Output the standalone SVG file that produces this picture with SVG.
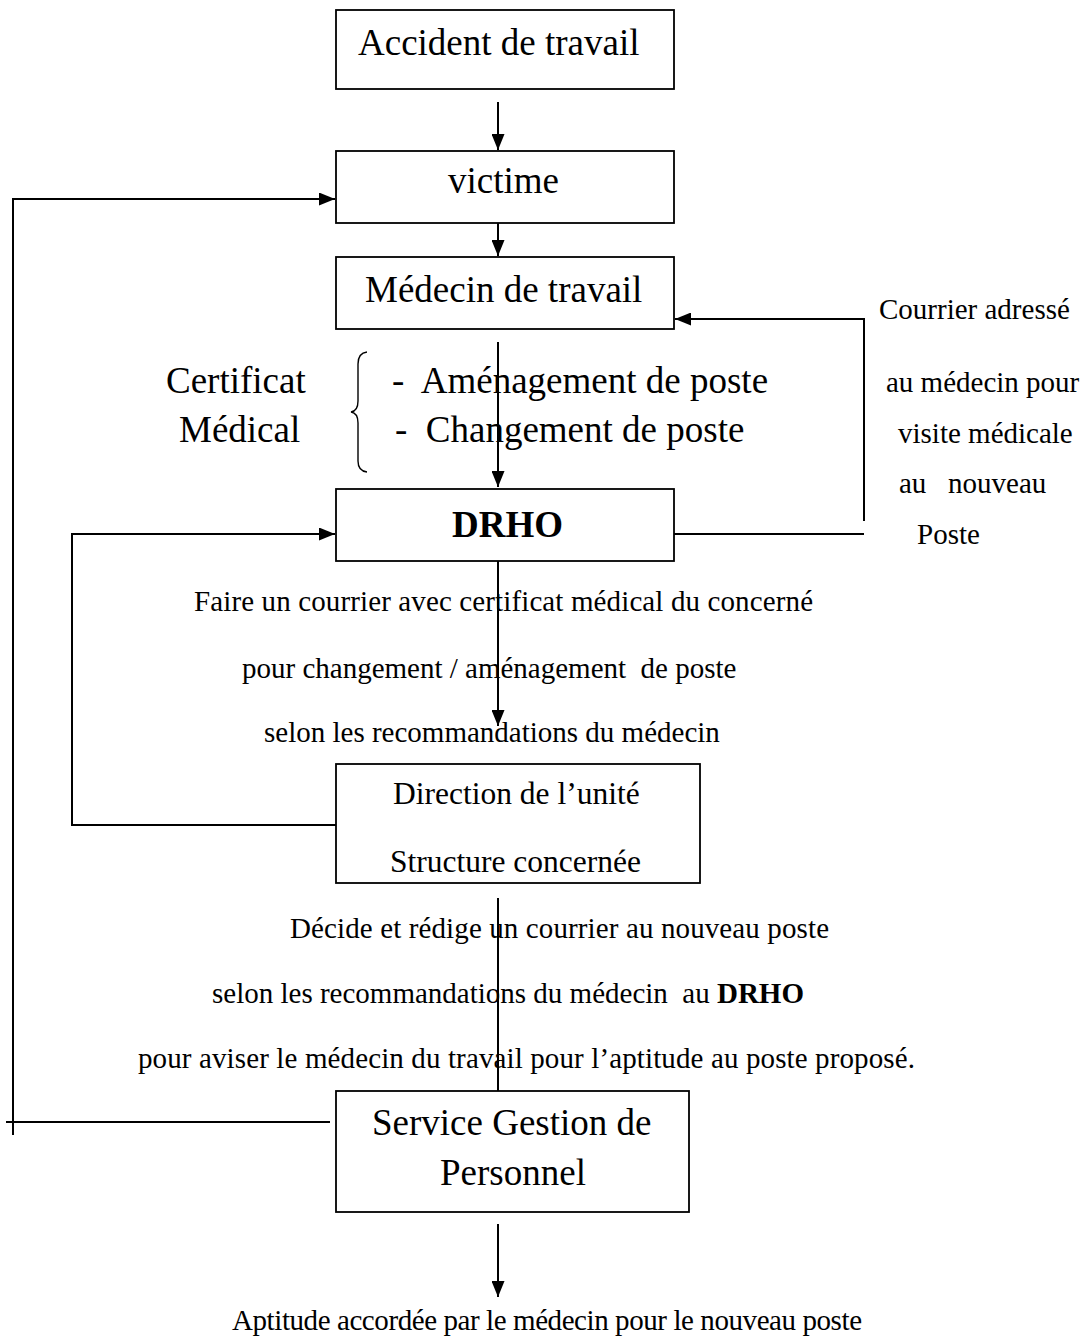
<svg xmlns="http://www.w3.org/2000/svg" width="1087" height="1338" viewBox="0 0 1087 1338">
<style>
.box{fill:#fff;stroke:#000;stroke-width:1.8}
.ln{fill:none;stroke:#000;stroke-width:2}
.big{font-family:"Liberation Serif","Times New Roman",serif;font-size:37px;fill:#000}
.mid{font-family:"Liberation Serif","Times New Roman",serif;font-size:31.5px;fill:#000}
.sm{font-family:"Liberation Serif","Times New Roman",serif;font-size:29px;fill:#000}
.b{font-weight:bold}
</style>
<defs>
<marker id="ah" markerWidth="16" markerHeight="13" refX="16" refY="6.5" orient="auto" markerUnits="userSpaceOnUse">
<path d="M0,0 L16,6.5 L0,13 Z" fill="#000"/>
</marker>
</defs>
<rect width="1087" height="1338" fill="#fff"/>

<g id="connectors">
<line class="ln" x1="498" y1="102" x2="498" y2="150" marker-end="url(#ah)"/>
<line class="ln" x1="498" y1="208" x2="498" y2="256" marker-end="url(#ah)"/>
<line class="ln" x1="498" y1="342" x2="498" y2="487" marker-end="url(#ah)"/>
<line class="ln" x1="498" y1="557" x2="498" y2="726" marker-end="url(#ah)"/>
<line class="ln" x1="498" y1="898" x2="498" y2="1091"/>
<line class="ln" x1="498" y1="1224" x2="498" y2="1297" marker-end="url(#ah)"/>
<polyline class="ln" points="674,534 864,534"/>
<polyline class="ln" points="864,521 864,319 675,319" marker-end="url(#ah)"/>
<polyline class="ln" points="337,825 72,825 72,534 335,534" marker-end="url(#ah)"/>
<polyline class="ln" points="330,1122 6,1122"/>
<polyline class="ln" points="13,1135 13,199 335,199" marker-end="url(#ah)"/>
<path d="M367,352 Q358,353 358,364 L358,401 Q358,411 351,412 Q358,413 358,423 L358,461 Q358,471 367,472" fill="none" stroke="#000" stroke-width="1.4"/>
</g>

<g id="n-accident">
<rect class="box" x="336" y="10" width="338" height="79"/>
<text class="big" x="358" y="55">Accident de travail</text>
</g>
<g id="n-victime">
<rect class="box" x="336" y="151" width="338" height="72"/>
<text class="big" x="448" y="193">victime</text>
</g>
<g id="n-medecin">
<rect class="box" x="336" y="257" width="338" height="72"/>
<text class="big" x="365" y="302">Médecin de travail</text>
</g>
<g id="n-certificat">
<text class="big" x="166" y="393">Certificat</text>
<text class="big" x="179" y="442">Médical</text>
<text class="big" x="392" y="393" xml:space="preserve">-  Aménagement de poste</text>
<text class="big" x="395" y="442" xml:space="preserve">-  Changement de poste</text>
</g>
<g id="n-courrier">
<text class="sm" x="879" y="319">Courrier adressé</text>
<text class="sm" x="886" y="392">au médecin pour</text>
<text class="sm" x="898" y="443">visite médicale</text>
<text class="sm" x="899" y="493" xml:space="preserve">au   nouveau</text>
<text class="sm" x="917" y="544">Poste</text>
</g>
<g id="n-drho">
<rect class="box" x="336" y="489" width="338" height="72"/>
<text class="big b" x="452" y="537">DRHO</text>
</g>
<g id="n-faire">
<text class="sm" x="194" y="611" textLength="619">Faire un courrier avec certificat médical du concerné</text>
<text class="sm" x="242" y="678" xml:space="preserve">pour changement / aménagement  de poste</text>
<text class="sm" x="264" y="742">selon les recommandations du médecin</text>
</g>
<g id="n-direction">
<rect class="box" x="336" y="764" width="364" height="119"/>
<text class="mid" x="393" y="804">Direction de l’unité</text>
<text class="mid" x="390" y="872">Structure concernée</text>
</g>
<g id="n-decide">
<text class="sm" x="290" y="938" textLength="539">Décide et rédige un courrier au nouveau poste</text>
<text class="sm" x="212" y="1003" xml:space="preserve">selon les recommandations du médecin  au <tspan class="b">DRHO</tspan></text>
<text class="sm" x="138" y="1068" textLength="777">pour aviser le médecin du travail pour l’aptitude au poste proposé.</text>
</g>
<g id="n-service">
<rect class="box" x="336" y="1091" width="353" height="121"/>
<text class="big" x="372" y="1135">Service Gestion de</text>
<text class="big" x="440" y="1185">Personnel</text>
</g>
<g id="n-aptitude">
<text class="sm" x="232" y="1330" textLength="630">Aptitude accordée par le médecin pour le nouveau poste</text>
</g>
</svg>
